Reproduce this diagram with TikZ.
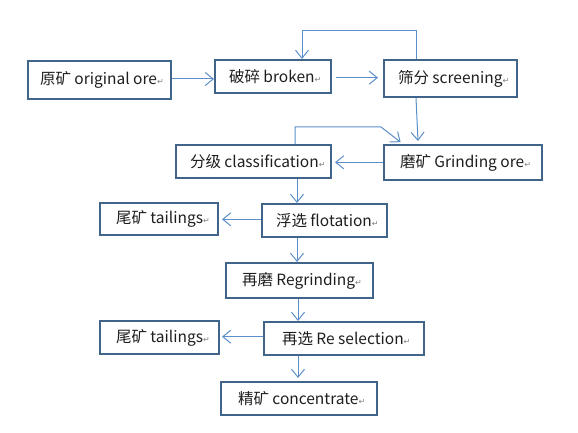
\documentclass[tikz,border=0pt]{standalone}
\usepackage{fontspec}
\setmainfont{Noto Sans CJK SC}
\newfontfamily\markfont{DejaVu Sans}
\usetikzlibrary{arrows.meta,calc}
\definecolor{boxc}{HTML}{41648A}
\definecolor{arrc}{HTML}{5B8FC9}
\definecolor{txtc}{HTML}{1E1E1E}
\newcommand{\parmark}{{\markfont\fontsize{8pt}{8pt}\selectfont\color{gray}↵}}
% \bx{name}{x1}{y1}{x2}{y2}{indent}{text}
\newcommand{\bx}[7]{%
  \pgfmathsetmacro{\bw}{#4-#2-2}%
  \pgfmathsetmacro{\bh}{#5-#3-2}%
  \node[procbox, anchor=north west, minimum width=\bw pt, minimum height=\bh pt,
        text width=\bw pt] (#1) at (#2+1,#3+1) {\hspace*{\dimexpr#6pt-1pt\relax}#7\parmark};}
\tikzset{
  procbox/.style={draw=boxc, line width=2pt, align=flush left, inner ysep=0pt, inner xsep=0pt,
    font=\fontsize{15.5pt}{17pt}\selectfont, text=txtc},
  conn/.style={draw=arrc, line width=1pt, -{Straight Barb[length=8pt,width=13pt,line width=1pt]}},
}
\begin{document}
\begin{tikzpicture}[x=1pt,y=-1pt]
\useasboundingbox (0,0) rectangle (578,433);
\bx{orig}{26}{59}{171}{99}{13}{原矿 original ore}
\bx{brok}{213}{58}{331}{93}{15}{破碎 broken}
\bx{scr}{382}{58}{517}{97}{15}{筛分 screening}
\bx{grd}{382}{143}{542}{180}{17}{磨矿 Grinding ore}
\bx{cls}{174}{143}{331}{178}{15}{分级 classification}
\bx{flo}{260}{202}{387}{237}{15}{浮选 flotation}
\bx{tla}{98}{201}{218}{235}{17}{尾矿 tailings}
\bx{reg}{224}{261}{373}{298}{17}{再磨 Regrinding}
\bx{rse}{262}{320}{424}{355}{19}{再选 Re selection}
\bx{tlb}{98}{319}{219}{354}{17}{尾矿 tailings}
\bx{con}{219}{380}{377}{415}{18}{精矿 concentrate}
% connectors
\draw[conn] (orig.east |- 0,79) -- (brok.west |- 0,79);
\draw[conn,shorten <=4pt,shorten >=5pt] (brok.east |- 0,77.7) -- (scr.west |- 0,77.7);
\draw[conn] (scr.south -| 416,0) -- ($(grd.north -| 418,0)+(0,-3)$);
\draw[conn] (scr.north -| 416,0) -- (416,31) -| (brok.north -| 302,0);
\draw[conn,shorten >=3pt] (grd.west |- 0,162.3) -- (cls.east |- 0,162.3);
\coordinate (lp) at (381,127);
\draw[conn,shorten >=3pt] (cls.north -| 295,0) |- (lp) -- (grd.north -| 403,0);
\draw[conn] (cls.south -| 297,0) -- (flo.north -| 297,0);
\draw[conn,shorten >=3pt] (flo.west |- 0,219.3) -- (tla.east |- 0,219.3);
\draw[conn] (flo.south -| 297,0) -- (reg.north -| 297,0);
\draw[conn] (reg.south -| 298,0) -- (rse.north -| 298,0);
\draw[conn,shorten >=2pt] (rse.west |- 0,336.7) -- (tlb.east |- 0,336.7);
\draw[conn,shorten >=3pt] (rse.south -| 298,0) -- (con.north -| 298,0);
\end{tikzpicture}
\end{document}
